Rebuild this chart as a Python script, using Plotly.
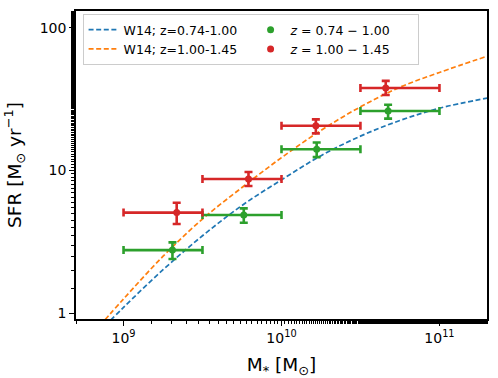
import plotly.graph_objects as go

# W14 relations (stellar mass, SFR)
w14_mass = [7.08e8, 1.0e9, 1.78e9, 3.16e9, 5.62e9, 1.0e10, 1.78e10, 3.16e10, 5.62e10, 1.0e11, 2.0e11]
w14_lo_sfr = [0.75, 1.10, 2.02, 3.49, 5.69, 8.6, 12.7, 17.4, 22.4, 27.3, 32.1]
w14_hi_sfr = [0.82, 1.26, 2.51, 4.57, 7.6, 12.3, 19.1, 27.9, 38.3, 48.6, 63.1]

# binned measurements
bin_lo = [1.0e9, 3.16e9, 1.0e10, 3.16e10]
bin_hi = [3.16e9, 1.0e10, 3.16e10, 1.0e11]

lo_mass = [2.04e9, 5.77e9, 1.67e10, 4.73e10]
lo_sfr = [2.77, 4.88, 14.1, 26.1]
lo_sfr_down = [2.40, 4.31, 12.4, 23.1]
lo_sfr_up = [3.14, 5.43, 15.7, 28.9]

hi_mass = [2.17e9, 6.18e9, 1.65e10, 4.57e10]
hi_sfr = [5.07, 8.72, 20.6, 37.8]
hi_sfr_down = [4.22, 7.79, 18.2, 33.8]
hi_sfr_up = [5.95, 9.76, 22.8, 42.4]

FONT = "DejaVu Sans"

fig = go.Figure()

#Model curves
fig.add_trace(go.Scatter(
    x=w14_mass, y=w14_lo_sfr, mode="lines", line_shape="spline",
    line=dict(color="#1f77b4", width=1.7, dash="5px,2.6px"),
    name="W14; z=0.74-1.00", legendrank=1,
))
fig.add_trace(go.Scatter(
    x=w14_mass, y=w14_hi_sfr, mode="lines", line_shape="spline",
    line=dict(color="#ff7f0e", width=1.7, dash="5px,2.6px"),
    name="W14; z=1.00-1.45", legendrank=3,
))

#Data points with errors
def add_points(mass, sfr, down, up, color, name, rank):
    fig.add_trace(go.Scatter(
        x=mass, y=sfr, mode="markers",
        marker=dict(color=color, size=7, symbol="circle"),
        error_x=dict(type="data", symmetric=False,
                     array=[h - m for h, m in zip(bin_hi, mass)],
                     arrayminus=[m - l for m, l in zip(mass, bin_lo)],
                     color=color, thickness=2.6, width=4),
        error_y=dict(type="data", symmetric=False,
                     array=[u - s for u, s in zip(up, sfr)],
                     arrayminus=[s - d for s, d in zip(sfr, down)],
                     color=color, thickness=2.6, width=4),
        name=name, legendrank=rank,
    ))

add_points(lo_mass, lo_sfr, lo_sfr_down, lo_sfr_up, "#2ca02c", "<i>z</i> = 0.74 − 1.00", 2)
add_points(hi_mass, hi_sfr, hi_sfr_down, hi_sfr_up, "#d62728", "<i>z</i> = 1.00 − 1.45", 4)

axis_common = dict(
    type="log", showgrid=False, zeroline=False, automargin=False,
    showline=True, linecolor="black", linewidth=1.5, mirror=True,
    ticks="outside", ticklen=5, tickwidth=1.2, tickcolor="black",
    minor=dict(ticks="outside", ticklen=3, tickwidth=0.9, tickcolor="black", showgrid=False),
    tickfont=dict(family=FONT, size=14, color="black"),
)

fig.update_xaxes(
    **axis_common,
    range=[8.699, 11.301],
    tickvals=[1e9, 1e10, 1e11],
    ticktext=["10<sup>9</sup>", "10<sup>10</sup>", "10<sup>11</sup>"],
    title=dict(text="M<sub>*</sub> [M<sub>⊙</sub>]", font=dict(family=FONT, size=18.5, color="black"), standoff=15),
)
fig.update_yaxes(
    **axis_common,
    range=[-0.04, 2.117],
    tickvals=[1, 10, 100],
    ticktext=["1", "10", "100"],
    title=dict(text="SFR [M<sub>⊙</sub> yr<sup>−1</sup>]", font=dict(family=FONT, size=18.5, color="black"), standoff=13),
)

fig.update_layout(
    width=498, height=378,
    margin=dict(l=76, r=11, t=11, b=59),
    paper_bgcolor="white", plot_bgcolor="white",
    font=dict(family=FONT, color="black"),
    legend=dict(
        orientation="h", x=0.016, y=0.99, xanchor="left", yanchor="top",
        entrywidth=122, tracegroupgap=0,
        bgcolor="rgba(255,255,255,0.8)", bordercolor="#cccccc", borderwidth=1,
        font=dict(family=FONT, size=12.5, color="black"),
    ),
)

fig.write_html("out.html", config={"displayModeBar": False},
               post_script="document.body.style.margin='0';")
